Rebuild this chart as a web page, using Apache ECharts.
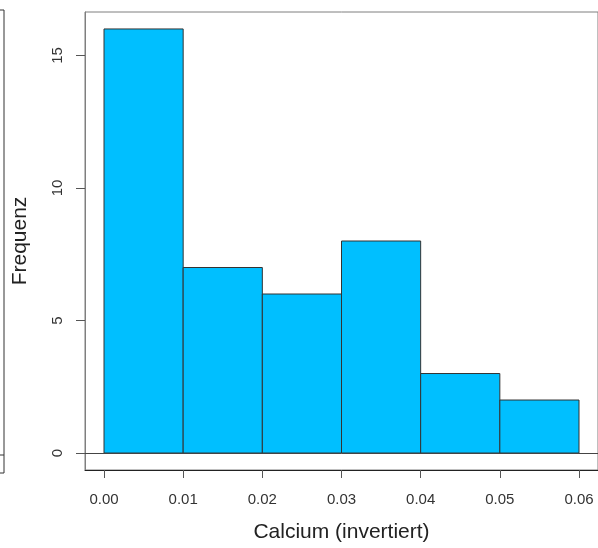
<!DOCTYPE html>
<html>
<head>
<meta charset="utf-8">
<script src="https://cdn.jsdelivr.net/npm/echarts@6/dist/echarts.min.js"></script>
<style>html,body{margin:0;padding:0;background:#fff}#c{width:598px;height:548px}</style>
</head>
<body>
<div id="c"></div>
<script>
const binStarts = [0.00, 0.01, 0.02, 0.03, 0.04, 0.05];
const binEnds   = [0.01, 0.02, 0.03, 0.04, 0.05, 0.06];
const counts    = [16, 7, 6, 8, 3, 2];
const xTicks = [0, 0.01, 0.02, 0.03, 0.04, 0.05, 0.06];
const yTicks = [0, 5, 10, 15];

const chart = echarts.init(document.getElementById('c'), null, {renderer: 'canvas'});
const font = '"Liberation Sans", Arial, sans-serif';
const data = binStarts.map((s, i) => [s, binEnds[i], counts[i]]);

chart.setOption({
  animation: false,
  backgroundColor: '#ffffff',
  grid: {left: 85, top: 12, right: -1, bottom: 75, show: true, borderColor: '#7f7f7f', borderWidth: 1, containLabel: false},
  xAxis: {
    type: 'value', min: -0.0024, max: 0.0624,
    name: 'Calcium (invertiert)', nameLocation: 'middle', nameGap: 52,
    nameTextStyle: {fontFamily: font, fontSize: 21, color: '#222'},
    axisLine: {show: true, onZero: false, lineStyle: {color: '#222', width: 1}},
    axisTick: {show: true, length: 8, lineStyle: {color: '#555'}, customValues: xTicks},
    axisLabel: {fontFamily: font, fontSize: 15, color: '#333', margin: 22, customValues: xTicks,
      formatter: v => v.toFixed(2)},
    splitLine: {show: false}
  },
  yAxis: {
    type: 'value', min: -0.64, max: 16.64,
    name: 'Frequenz', nameLocation: 'middle', nameGap: 54,
    nameTextStyle: {fontFamily: font, fontSize: 21, color: '#222'},
    axisLine: {show: true, onZero: false, lineStyle: {color: '#7f7f7f', width: 1}},
    axisTick: {show: true, length: 9, lineStyle: {color: '#555'}, customValues: yTicks},
    axisLabel: {fontFamily: font, fontSize: 15, color: '#333', margin: 20, rotate: 90, customValues: yTicks},
    splitLine: {show: false}
  },
  graphic: [
    {type: 'rect', shape: {x: -100, y: 10, width: 104, height: 463}, style: {fill: 'none', stroke: '#333', lineWidth: 1}, silent: true},
    {type: 'line', shape: {x1: 0, y1: 455, x2: 4, y2: 455}, style: {stroke: '#333', lineWidth: 1}, silent: true}
  ],
  series: [{
    type: 'custom',
    data: data,
    renderItem: function (params, api) {
      const p0 = api.coord([api.value(0), 0]);
      const p1 = api.coord([api.value(1), api.value(2)]);
      return {
        type: 'rect',
        shape: {x: p0[0], y: p1[1], width: p1[0] - p0[0], height: p0[1] - p1[1]},
        style: {fill: '#00BFFF', stroke: '#333', lineWidth: 1}
      };
    },
    markLine: {
      silent: true, symbol: 'none', label: {show: false},
      lineStyle: {color: '#444', type: 'solid', width: 1},
      data: [{yAxis: 0}]
    }
  }]
});
</script>
</body>
</html>
